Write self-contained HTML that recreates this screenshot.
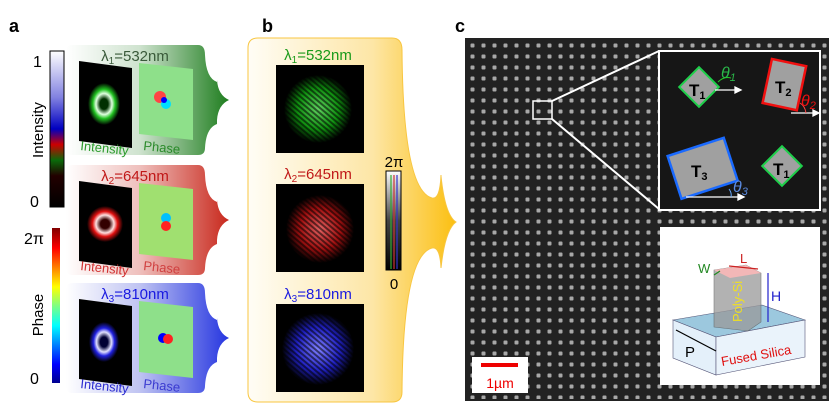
<!DOCTYPE html>
<html><head><meta charset="utf-8"><style>
body{margin:0;background:#fff}
svg{display:block;font-family:"Liberation Sans",Arial,sans-serif}
</style></head><body>
<svg width="837" height="410" viewBox="0 0 837 410" xmlns="http://www.w3.org/2000/svg">
<defs>
<linearGradient id="gG" x1="0" x2="1"><stop offset="0" stop-color="#fff"/><stop offset="0.45" stop-color="#cfe3cf"/><stop offset="1" stop-color="#1e7d1e"/></linearGradient>
<linearGradient id="gR" x1="0" x2="1"><stop offset="0" stop-color="#fff"/><stop offset="0.45" stop-color="#efc0bd"/><stop offset="1" stop-color="#c8281c"/></linearGradient>
<linearGradient id="gB" x1="0" x2="1"><stop offset="0" stop-color="#fff"/><stop offset="0.45" stop-color="#c0c4f2"/><stop offset="1" stop-color="#2535e0"/></linearGradient>
<linearGradient id="gY" x1="0" x2="1"><stop offset="0" stop-color="#fffdf6"/><stop offset="0.6" stop-color="#fde6a6"/><stop offset="1" stop-color="#fbbf10"/></linearGradient>
<linearGradient id="cbI" x1="0" y1="1" x2="0" y2="0"><stop offset="0" stop-color="#000"/><stop offset="0.2" stop-color="#200"/><stop offset="0.3" stop-color="#0a6a0a"/><stop offset="0.4" stop-color="#c00"/><stop offset="0.5" stop-color="#0000c0"/><stop offset="0.7" stop-color="#8080e0"/><stop offset="1" stop-color="#fff"/></linearGradient>
<linearGradient id="cbP" x1="0" y1="1" x2="0" y2="0"><stop offset="0" stop-color="#00008f"/><stop offset="0.12" stop-color="#0000ff"/><stop offset="0.37" stop-color="#00ffff"/><stop offset="0.5" stop-color="#80ff80"/><stop offset="0.62" stop-color="#ffff00"/><stop offset="0.87" stop-color="#ff0000"/><stop offset="1" stop-color="#800000"/></linearGradient>
<linearGradient id="cbB" x1="0" y1="1" x2="0" y2="0"><stop offset="0" stop-color="#000"/><stop offset="0.5" stop-color="#444"/><stop offset="1" stop-color="#fff"/></linearGradient>
<radialGradient id="ringG"><stop offset="0.25" stop-color="#003000"/><stop offset="0.5" stop-color="#dfffdf"/><stop offset="0.7" stop-color="#20c020"/><stop offset="1" stop-color="#000"/></radialGradient>
<radialGradient id="ringR"><stop offset="0.25" stop-color="#300"/><stop offset="0.5" stop-color="#ffe0e0"/><stop offset="0.7" stop-color="#e01010"/><stop offset="1" stop-color="#000"/></radialGradient>
<radialGradient id="ringB"><stop offset="0.25" stop-color="#003"/><stop offset="0.5" stop-color="#e0e0ff"/><stop offset="0.7" stop-color="#2020e0"/><stop offset="1" stop-color="#000"/></radialGradient>
<radialGradient id="spG"><stop offset="0" stop-color="#60d060"/><stop offset="0.6" stop-color="#109010"/><stop offset="1" stop-color="#000"/></radialGradient>
<radialGradient id="spR"><stop offset="0" stop-color="#e06060"/><stop offset="0.6" stop-color="#a01010"/><stop offset="1" stop-color="#000"/></radialGradient>
<radialGradient id="spB"><stop offset="0" stop-color="#8080ff"/><stop offset="0.6" stop-color="#2020c0"/><stop offset="1" stop-color="#000"/></radialGradient>
<pattern id="fr" width="4" height="4" patternUnits="userSpaceOnUse" patternTransform="rotate(40)"><rect width="4" height="2" fill="#000" opacity="0.55"/></pattern>
<pattern id="dots" width="11" height="11" patternUnits="userSpaceOnUse" x="467" y="40"><rect width="11" height="11" fill="#222"/><rect x="3.5" y="3.5" width="4" height="4" rx="1" fill="#a8a8a8"/></pattern>
</defs>

<!-- panel a -->
<text x="9" y="32" font-size="18" font-weight="bold">a</text>
<rect x="50" y="51" width="14" height="156" fill="url(#cbI)" stroke="#000"/>
<text x="33" y="67" font-size="16">1</text>
<text x="30" y="207" font-size="16">0</text>
<text transform="translate(43,130) rotate(-90)" font-size="15" text-anchor="middle">Intensity</text>
<rect x="52" y="228" width="8" height="155" fill="url(#cbP)"/>
<text x="24" y="244" font-size="16">2π</text>
<text x="30" y="384" font-size="16">0</text>
<text transform="translate(43,315) rotate(-90)" font-size="15" text-anchor="middle">Phase</text>

<path d="M72,45 H198 Q205,45 205,55 Q206,78 217,82 V80 Q218,95 229,100 Q218,105 217,120 V124 Q206,128 205,148 Q205,155 198,155 H72 Q66,155 66,148 V52 Q66,45 72,45Z" fill="url(#gG)"/>
<path d="M72,165 H198 Q205,165 205,175 Q206,198 217,202 V200 Q218,215 229,220 Q218,225 217,240 V244 Q206,248 205,268 Q205,275 198,275 H72 Q66,275 66,268 V172 Q66,165 72,165Z" fill="url(#gR)"/>
<path d="M72,283 H198 Q205,283 205,293 Q206,316 217,320 V318 Q218,333 229,338 Q218,343 217,358 V362 Q206,366 205,386 Q205,393 198,393 H72 Q66,393 66,386 V290 Q66,283 72,283Z" fill="url(#gB)"/>
<text x="135" y="61" font-size="15" fill="#3a5a3a" text-anchor="middle">λ<tspan font-size="10" dy="3">1</tspan><tspan dy="-3">=532nm</tspan></text>
<text x="135" y="181" font-size="15" fill="#c01818" text-anchor="middle">λ<tspan font-size="10" dy="3">2</tspan><tspan dy="-3">=645nm</tspan></text>
<text x="135" y="299" font-size="15" fill="#1a1ae0" text-anchor="middle">λ<tspan font-size="10" dy="3">3</tspan><tspan dy="-3">=810nm</tspan></text>

<g>
<polygon points="79,61 132,68 132,148 79,141" fill="#000"/>
<ellipse cx="104" cy="104" rx="16" ry="21" fill="url(#ringG)"/>
<polygon points="139,63 193,69 193,140 139,134" fill="#8ee08a"/>
<circle cx="160" cy="97" r="6" fill="#f44"/><circle cx="166" cy="104" r="5" fill="#00e0ff"/><circle cx="164" cy="100" r="3" fill="#00f"/>
<text x="80" y="150" font-size="13" fill="#2a9a2a" transform="rotate(6 80 150)">Intensity</text>
<text x="143" y="150" font-size="13" fill="#2a8a2a" transform="rotate(6 143 150)">Phase</text>
</g>
<g transform="translate(0,120)">
<polygon points="79,61 132,68 132,148 79,141" fill="#000"/>
<ellipse cx="105" cy="104" rx="18" ry="18" fill="url(#ringR)"/>
<polygon points="139,63 193,69 193,140 139,134" fill="#a0e070"/>
<circle cx="166" cy="98" r="5" fill="#00c0ff"/><circle cx="166" cy="106" r="5" fill="#f22"/>
<text x="80" y="150" font-size="13" fill="#d03030" transform="rotate(6 80 150)">Intensity</text>
<text x="143" y="150" font-size="13" fill="#d04040" transform="rotate(6 143 150)">Phase</text>
</g>
<g transform="translate(0,238)">
<polygon points="79,61 132,68 132,148 79,141" fill="#000"/>
<ellipse cx="104" cy="104" rx="15" ry="20" fill="url(#ringB)"/>
<polygon points="139,63 193,69 193,140 139,134" fill="#8ee08a"/>
<circle cx="163" cy="100" r="5" fill="#00f"/><circle cx="168" cy="101" r="5" fill="#f22"/>
<text x="80" y="150" font-size="13" fill="#2a2ad0" transform="rotate(6 80 150)">Intensity</text>
<text x="143" y="150" font-size="13" fill="#3a3ad0" transform="rotate(6 143 150)">Phase</text>
</g>

<!-- panel b -->
<text x="262" y="32" font-size="18" font-weight="bold">b</text>
<path d="M258,38 H392 Q402,38 402,50 Q403,190 432,198 Q440,200 441,175 V176 Q445,215 456,222 Q445,230 441,268 V268 Q440,246 432,248 Q403,256 402,392 Q402,402 392,402 H258 Q248,402 248,392 V48 Q248,38 258,38Z" fill="url(#gY)" stroke="#f8c640" stroke-width="1"/>
<text x="318" y="60" font-size="15" fill="#1a9a1a" text-anchor="middle">λ<tspan font-size="10" dy="3">1</tspan><tspan dy="-3">=532nm</tspan></text>
<text x="318" y="179" font-size="15" fill="#c01818" text-anchor="middle">λ<tspan font-size="10" dy="3">2</tspan><tspan dy="-3">=645nm</tspan></text>
<text x="318" y="299" font-size="15" fill="#1a1ae0" text-anchor="middle">λ<tspan font-size="10" dy="3">3</tspan><tspan dy="-3">=810nm</tspan></text>
<rect x="276" y="65" width="88" height="88" fill="#000"/><circle cx="318" cy="109" r="34" fill="url(#spG)"/><circle cx="318" cy="109" r="34" fill="url(#fr)"/>
<rect x="276" y="184" width="88" height="88" fill="#000"/><circle cx="320" cy="229" r="34" fill="url(#spR)"/><circle cx="320" cy="229" r="34" fill="url(#fr)"/>
<rect x="276" y="304" width="88" height="88" fill="#000"/><circle cx="318" cy="349" r="36" fill="url(#spB)"/><circle cx="318" cy="349" r="36" fill="url(#fr)"/>
<rect x="386" y="171" width="15" height="99" fill="url(#cbB)" stroke="#000"/>
<rect x="390" y="175" width="2" height="94" fill="#3a3" opacity="0.6"/><rect x="393" y="175" width="2" height="94" fill="#c33" opacity="0.6"/><rect x="396" y="175" width="2" height="94" fill="#33c" opacity="0.6"/>
<text x="394" y="167" font-size="15" text-anchor="middle">2π</text>
<text x="394" y="289" font-size="15" text-anchor="middle">0</text>

<!-- panel c -->
<text x="455" y="32" font-size="18" font-weight="bold">c</text>
<rect x="465" y="38" width="364" height="363" fill="#222"/>
<rect x="467" y="40" width="360" height="359" fill="url(#dots)"/>
<rect x="533" y="101" width="19" height="18" fill="none" stroke="#fff" stroke-width="1.5"/>
<line x1="552" y1="101" x2="659" y2="51" stroke="#fff" stroke-width="2"/>
<line x1="552" y1="119" x2="659" y2="209" stroke="#fff" stroke-width="2"/>
<rect x="659" y="51" width="161" height="159" fill="#161616" stroke="#fff" stroke-width="2"/>
<g font-size="17" font-weight="bold" fill="#000">
<rect x="685" y="73" width="28" height="28" fill="#a0a0a0" stroke="#1ecf4a" stroke-width="2" transform="rotate(45 699 87)"/>
<text x="689" y="96">T<tspan font-size="11" dy="3">1</tspan></text>
<rect x="767" y="62" width="35" height="45" fill="#a0a0a0" stroke="#f01010" stroke-width="2.5" transform="rotate(12 784 84)"/>
<text x="775" y="93">T<tspan font-size="11" dy="3">2</tspan></text>
<rect x="673" y="146" width="59" height="45" fill="#a0a0a0" stroke="#1a6aff" stroke-width="2.5" transform="rotate(-18 702 168)"/>
<text x="691" y="177">T<tspan font-size="11" dy="3">3</tspan></text>
<rect x="768" y="152" width="28" height="28" fill="#a0a0a0" stroke="#1ecf4a" stroke-width="2" transform="rotate(45 782 166)"/>
<text x="773" y="175">T<tspan font-size="11" dy="3">1</tspan></text>
</g>
<g stroke="#fff" stroke-width="1.3" fill="#fff">
<line x1="715" y1="90" x2="737" y2="90"/><polygon points="741,90 735,87 735,93"/>
<line x1="791" y1="113" x2="815" y2="113"/><polygon points="819,113 813,110 813,116"/>
<line x1="686" y1="197" x2="740" y2="197"/><polygon points="744,197 738,194 738,200"/>
</g>
<path d="M718,82 Q724,76 731,78" stroke="#2c2" fill="none"/>
<path d="M800,103 Q805,106 806,113" stroke="#f44" fill="none"/>
<path d="M729,189 Q732,193 731,197" stroke="#6af" fill="none"/>
<text x="721" y="78" font-size="16" fill="#2ab84a" font-style="italic">θ<tspan font-size="11" dy="3">1</tspan></text>
<text x="801" y="106" font-size="16" fill="#f01010" font-style="italic">θ<tspan font-size="11" dy="3">2</tspan></text>
<text x="733" y="192" font-size="16" fill="#5a8ae0" font-style="italic">θ<tspan font-size="11" dy="3">3</tspan></text>

<rect x="660" y="227" width="160" height="158" fill="#fff"/>
<polygon points="673,320 762,305 805,320 716,337" fill="#9cc8de" stroke="#557" stroke-width="0.6"/>
<polygon points="673,320 716,337 716,375 673,358" fill="#e4f0fa" stroke="#557" stroke-width="0.6"/>
<polygon points="716,337 805,320 805,357 716,375" fill="#eaf3fb" stroke="#557" stroke-width="0.6"/>
<polygon points="714,270 746,265 761,273 761,322 748,331 714,327" fill="#999" opacity="0.75" stroke="#555" stroke-width="0.6"/>
<polygon points="714,270 746,265 761,273 730,278" fill="#f3b7b7"/>
<text transform="translate(742,322) rotate(-90)" font-size="13" fill="#f0e020">Poly-Si</text>
<line x1="768" y1="273" x2="768" y2="322" stroke="#22c" stroke-width="1.2"/>
<text x="771" y="301" font-size="14" fill="#22c">H</text>
<line x1="729" y1="266" x2="758" y2="269" stroke="#c22" stroke-width="1.2"/>
<text x="740" y="263" font-size="13" fill="#c22">L</text>
<line x1="714" y1="275" x2="720" y2="271" stroke="#282" stroke-width="1.2"/>
<text x="698" y="273" font-size="13" fill="#282">W</text>
<line x1="676" y1="330" x2="716" y2="351" stroke="#000" stroke-width="1.2"/>
<text x="685" y="357" font-size="15">P</text>
<text transform="translate(722,366) rotate(-10)" font-size="13" fill="#e01010">Fused Silica</text>

<rect x="472" y="357" width="56" height="36" fill="#fff"/>
<rect x="481" y="363" width="37" height="4" fill="#e00"/>
<text x="500" y="388" font-size="14" fill="#e00" text-anchor="middle">1µm</text>
</svg>
</body></html>
